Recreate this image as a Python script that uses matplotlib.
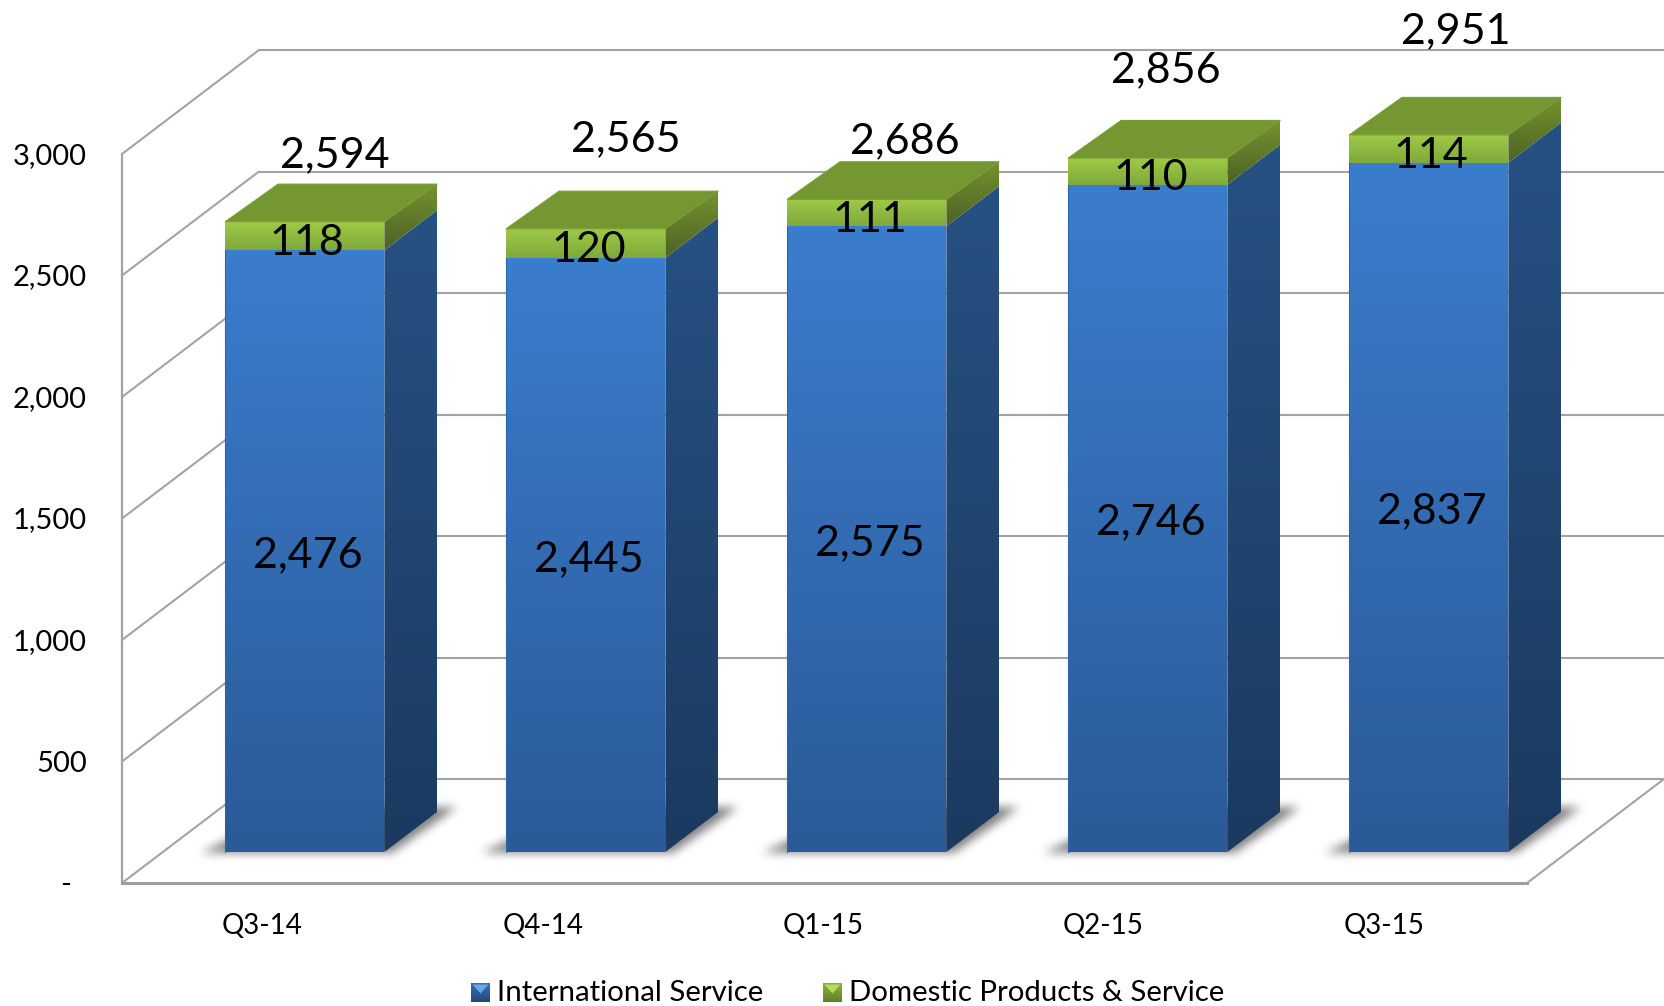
import numpy as np
import matplotlib
matplotlib.use('Agg')
import matplotlib.pyplot as plt
from matplotlib.patches import Polygon
from matplotlib.path import Path
from matplotlib.colors import LinearSegmentedColormap

plt.rcParams['font.family'] = ['Lato', 'DejaVu Sans']

quarters = ['Q3-14', 'Q4-14', 'Q1-15', 'Q2-15', 'Q3-15']
international = [2476, 2445, 2575, 2746, 2837]
domestic = [118, 120, 111, 110, 114]
totals = [2594, 2565, 2686, 2856, 2951]
y_ticks = [0, 500, 1000, 1500, 2000, 2500, 3000]

# total labels sit at odd spots in the original, offsets in pixels
total_offsets = [(31, 66), (41, 90), (39, 58), (19, 88), (28, 104)]

W, H = 1664, 1006
PX_X = 281.0     # pixels per category
PX_Y = 0.243     # pixels per unit
DX = 137 / PX_X  # depth of the floor
DY = 104 / PX_Y
D0, D1 = 0.298, 0.683   # front and back of the bars, as floor depth
HW = 0.283
BEVEL = 2.5 / PX_Y
BAR_SHIFT = 1.5 / PX_X


def skew(x, y, d):
    return (x + d * DX, y + d * DY)


def gradient_poly(ax, pts, top, bottom, z=3):
    # polygon filled with vertical gradient
    xs = [p[0] for p in pts]
    ys = [p[1] for p in pts]
    cmap = LinearSegmentedColormap.from_list('g', [bottom, top])
    patch = Polygon(pts, closed=True, transform=ax.transData, facecolor='none', edgecolor='none', zorder=z)
    ax.add_patch(patch)
    im = ax.imshow(np.linspace(1, 0, 64).reshape(-1, 1), cmap=cmap, aspect='auto', vmin=0, vmax=1,
                   extent=[min(xs), max(xs), min(ys), max(ys)], zorder=z, interpolation='bilinear')
    im.set_clip_path(patch)


def box_blur(a, n):
    k = np.ones(n) / n
    for _ in range(3):
        a = np.apply_along_axis(lambda r: np.convolve(r, k, mode='same'), 0, a)
        a = np.apply_along_axis(lambda r: np.convolve(r, k, mode='same'), 1, a)
    return a


def floor_shadow(ax, pts, margin=30):
    # blurred parallelogram on the floor, one raster cell per pixel
    xs = [p[0] for p in pts]
    ys = [p[1] for p in pts]
    x0, x1 = min(xs) - margin / PX_X, max(xs) + margin / PX_X
    y0, y1 = min(ys) - margin / PX_Y, max(ys) + margin / PX_Y
    nx = int((x1 - x0) * PX_X)
    ny = int((y1 - y0) * PX_Y)
    gx, gy = np.meshgrid(np.linspace(x0, x1, nx), np.linspace(y1, y0, ny))
    mask = Path(pts).contains_points(np.c_[gx.ravel(), gy.ravel()]).reshape(ny, nx).astype(float)
    rgba = np.zeros((ny, nx, 4))
    rgba[..., :3] = 0.19
    rgba[..., 3] = box_blur(mask, 9) * 0.62
    ax.imshow(rgba, aspect='auto', extent=[x0, x1, y0, y1], zorder=2, interpolation='bilinear')


fig = plt.figure(figsize=(W / 100, H / 100), dpi=100)
ax = fig.add_axes([0, 0, 1, 1])
ax.set_axis_off()
ax.autoscale(False)
xlim = (-0.5 - 122 / PX_X, -0.5 + (W - 122) / PX_X)
ylim = (-(H - 883) / PX_Y, 883 / PX_Y)
ax.set_xlim(xlim)
ax.set_ylim(ylim)

grid_c = '#a3a3a3'
x_left = -0.5
x_right = 4.5
# walls
for t in y_ticks:
    bx, by = skew(x_left, t, 1)
    ax.plot([x_left, bx], [t, by], color=grid_c, lw=1.5, zorder=1, solid_capstyle='round')
    end = x_right + DX if t == 0 else xlim[1]
    ax.plot([bx, end], [by, by], color=grid_c, lw=1.5, zorder=1)
ax.plot([x_left, x_left], [0, y_ticks[-1]], color=grid_c, lw=1.6, zorder=1)
ax.plot([x_left, x_right], [0, 0], color='#9c9c9c', lw=2.2, zorder=1)
ax.plot([x_right, x_right + DX], [0, DY], color=grid_c, lw=1.5, zorder=1)

for i in range(len(quarters)):
    base = international[i]
    top = totals[i]
    xl = i - HW + BAR_SHIFT
    xr = i + HW + BAR_SHIFT

    floor_shadow(ax, [skew(xl - 24 / PX_X, -1 / PX_Y, D0), skew(xr + 8 / PX_X, -1 / PX_Y, D0),
                      skew(xr + 20 / PX_X, 4 / PX_Y, D1), skew(xl + 20 / PX_X, 4 / PX_Y, D1)])

    # blue block
    gradient_poly(ax, [skew(xl, 0, D0), skew(xr, 0, D0), skew(xr, base, D0), skew(xl, base, D0)],
                  '#3b7dcd', '#2b5a98')
    gradient_poly(ax, [skew(xr, 0, D0), skew(xr, 0, D1), skew(xr, base, D1), skew(xr, base, D0)],
                  '#265183', '#1b3a60')
    # green block
    gradient_poly(ax, [skew(xl, base, D0), skew(xr, base, D0), skew(xr, top, D0), skew(xl, top, D0)],
                  '#9fca47', '#7fa93a')
    gradient_poly(ax, [skew(xr, base, D0), skew(xr, base, D1), skew(xr, top - BEVEL, D1), skew(xr, top, D0)],
                  '#74932f', '#4d6226')
    ax.add_patch(Polygon([skew(xl, top, D0), skew(xr, top, D0), skew(xr, top - BEVEL, D1), skew(xl, top - BEVEL, D1)],
                         closed=True, facecolor='#759731', edgecolor='#7a9c33', lw=0.8,
                         joinstyle='round', zorder=3))
    ax.plot([skew(xl, 0, D0)[0]] * 2, [skew(xl, 0, D0)[1], skew(xl, base, D0)[1]], color='#2f66a8', lw=0.8, zorder=3)

    # value labels
    cx = skew(i, 0, D0)[0] + 4 / PX_X
    ax.text(cx, skew(i, base / 2, D0)[1] - 4 / PX_Y, f'{base:,}', ha='center', va='center', fontsize=31, color='black', zorder=5)
    ax.text(cx, skew(i, base + domestic[i] / 2, D0)[1] - 7 / PX_Y, str(domestic[i]), ha='center', va='center',
            fontsize=31, color='black', zorder=5)
    ax.annotate(f'{top:,}', xy=skew(i, top, D0), xytext=total_offsets[i], textcoords='offset pixels',
                ha='center', va='center', fontsize=31, color='black', zorder=5)

    ax.text(i * 0.9975, -43 / PX_Y, quarters[i], ha='center', va='center', fontsize=20, color='black')

for t in y_ticks:
    if t == 0:
        ax.text(x_left - 51 / PX_X, t - 2 / PX_Y, '-', ha='right', va='center', fontsize=21, color='black')
    else:
        ax.text(x_left - 35 / PX_X, t - 2 / PX_Y, f'{t:,}', ha='right', va='center', fontsize=21, color='black')


def legend_item(px, label, top_c, bottom_c, light):
    sw = fig.add_axes([px / W, 1 - 1002 / H, 19 / W, 19 / H])
    sw.set_axis_off()
    cmap = LinearSegmentedColormap.from_list('s', [bottom_c, top_c])
    sw.imshow(np.linspace(1, 0, 32).reshape(-1, 1), cmap=cmap, aspect='auto', extent=[0, 1, 0, 1], vmin=0, vmax=1)
    sw.add_patch(Polygon([(0.08, 0.92), (0.92, 0.92), (0.5, 0.45)], closed=True, facecolor=light, edgecolor='none'))
    fig.text((px + 26) / W, 1 - 993 / H, label, ha='left', va='center', fontsize=21.2, color='black')


legend_item(471, 'International Service', '#3570b5', '#24497a', '#69a7ea')
legend_item(823, 'Domestic Products & Service', '#8aaf3c', '#64822c', '#b6dc58')

fig.savefig('out.png', dpi=100)
